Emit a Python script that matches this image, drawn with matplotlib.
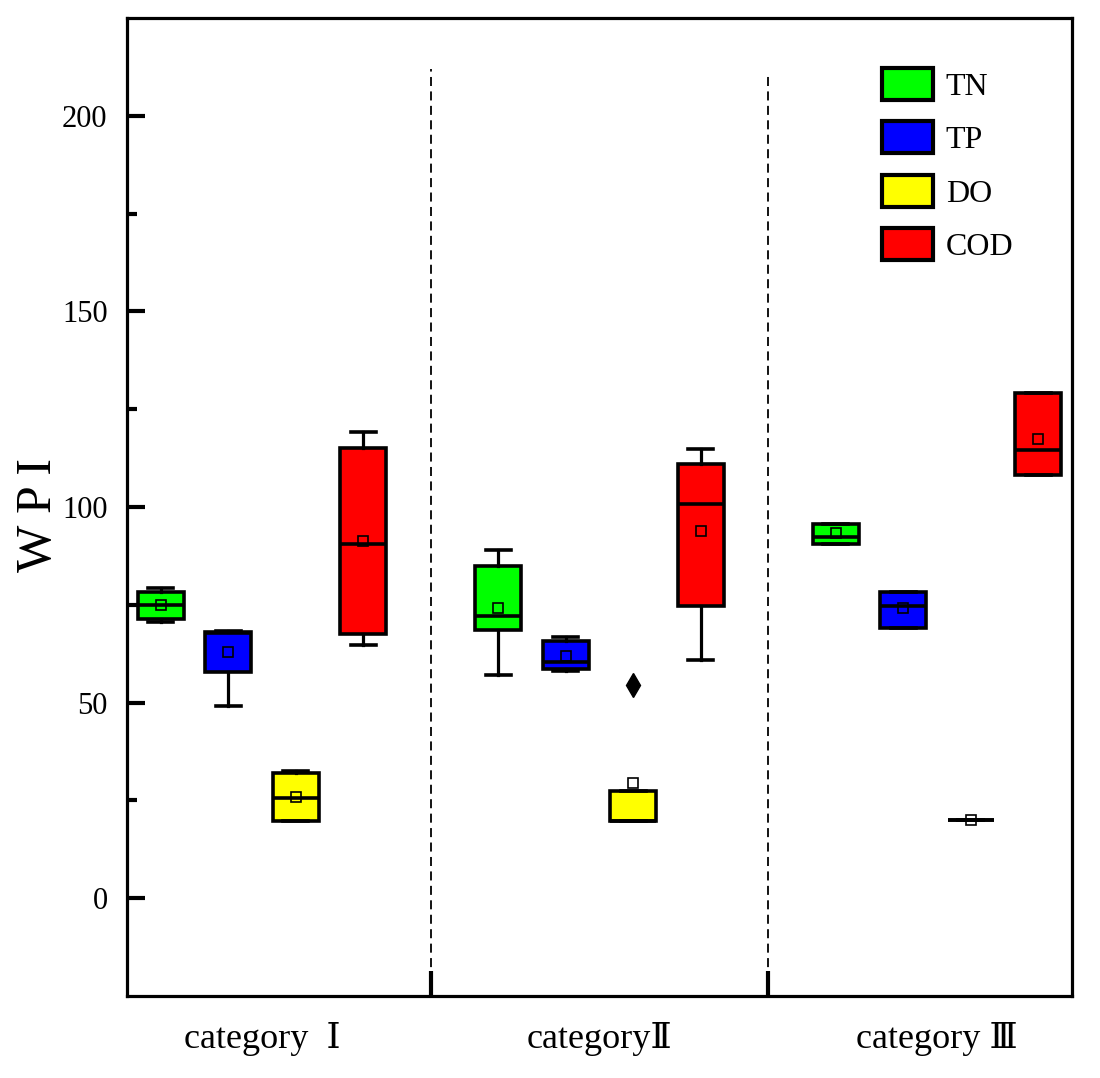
import matplotlib
matplotlib.use('Agg')
import matplotlib.pyplot as plt
from matplotlib.patches import Patch

plt.rcParams['font.family'] = ['Liberation Serif', 'DejaVu Serif', 'DejaVu Sans', 'Noto Sans CJK SC']

categories = ['category  \u2160', 'category\u2161', 'category \u2162']
series = ['TN', 'TP', 'DO', 'COD']
colors = ['#00ff00', '#0000ff', '#ffff00', '#ff0000']

# per category: (whisker low, q1, median, q3, whisker high, mean)
tn = [(70.6, 71.4, 74.9, 78.3, 79.3, 74.9),
      (57.0, 68.5, 72.1, 84.9, 89.0, 74.2),
      (90.5, 90.5, 92.3, 95.7, 95.7, 93.4)]
tp = [(49.1, 57.8, 67.8, 68.0, 68.3, 62.9),
      (58.0, 58.6, 60.5, 65.8, 66.7, 62.0),
      (69.1, 69.1, 74.6, 78.3, 78.3, 74.1)]
do = [(19.7, 19.7, 25.6, 32.0, 32.5, 25.8),
      (19.8, 19.8, 19.8, 27.4, 27.4, 29.4),
      (20.0, 20.0, 20.0, 20.0, 20.0, 20.0)]
cod = [(64.7, 67.5, 90.5, 115.1, 119.2, 91.3),
       (60.9, 74.8, 100.8, 111.0, 114.7, 93.8),
       (108.3, 108.3, 114.6, 129.2, 129.2, 117.4)]
fliers = [[[], [], []], [[], [], []], [[], [54.5], []], [[], [], []]]

sep_x = [4, 9]
sep_top = [212, 211]

fig = plt.figure(figsize=(11, 10.78), dpi=100)
ax = fig.add_axes([0.1155, 0.0761, 0.859, 0.9072])

for si, rows in enumerate([tn, tp, do, cod]):
    stats = []
    for g, r in enumerate(rows):
        stats.append(dict(whislo=r[0], q1=r[1], med=r[2], q3=r[3],
                          whishi=r[4], mean=r[5], fliers=fliers[si][g]))
    ax.bxp(stats, positions=[5 * g + si for g in range(len(rows))],
           widths=0.68, capwidths=0.37, patch_artist=True, showmeans=True,
           manage_ticks=False,
           boxprops=dict(facecolor=colors[si], edgecolor='k', linewidth=2.6),
           medianprops=dict(color='k', linewidth=2.6),
           whiskerprops=dict(color='k', linewidth=2.3),
           capprops=dict(color='k', linewidth=2.6),
           meanprops=dict(marker='s', markerfacecolor='none', markeredgecolor='k',
                          markersize=7, markeredgewidth=1.2),
           flierprops=dict(marker='d', markerfacecolor='k', markeredgecolor='k',
                           markersize=12))

# dashed separators between the categories
for x, top in zip(sep_x, sep_top):
    ax.plot([x, x], [-25, top], color='k', linewidth=1.3, dashes=(5, 3))

ax.set_xlim(-0.5, 13.5)
ax.set_ylim(-25, 225)

ax.set_xticks(sep_x)
ax.set_xticklabels(['', ''])
ax.set_xticks([1.5, 6.5, 11.5], minor=True)
ax.set_xticklabels(categories, minor=True, fontsize=26)
ax.tick_params(axis='x', which='major', direction='in', length=18, width=3)
ax.tick_params(axis='x', which='minor', length=0, pad=19)

ax.set_yticks([0, 50, 100, 150, 200])
ax.set_yticks([25, 75, 125, 175], minor=True)
ax.tick_params(axis='y', which='major', direction='in', length=13, width=3,
               labelsize=22, pad=14)
ax.tick_params(axis='y', which='minor', direction='in', length=7, width=3)

for sp in ax.spines.values():
    sp.set_linewidth(2.3)

ax.set_ylabel('W P I', fontsize=36)
ax.yaxis.set_label_coords(-0.069, 0.492)

handles = [Patch(facecolor=c, edgecolor='k', linewidth=3, label=n)
           for n, c in zip(series, colors)]
ax.legend(handles=handles, loc='upper left', bbox_to_anchor=(0.799, 0.949),
          frameon=False, fontsize=23, handlelength=1.6, handleheight=1.15,
          handletextpad=0.4, labelspacing=0.62, borderpad=0, borderaxespad=0)

fig.savefig('out.png', dpi=100)
